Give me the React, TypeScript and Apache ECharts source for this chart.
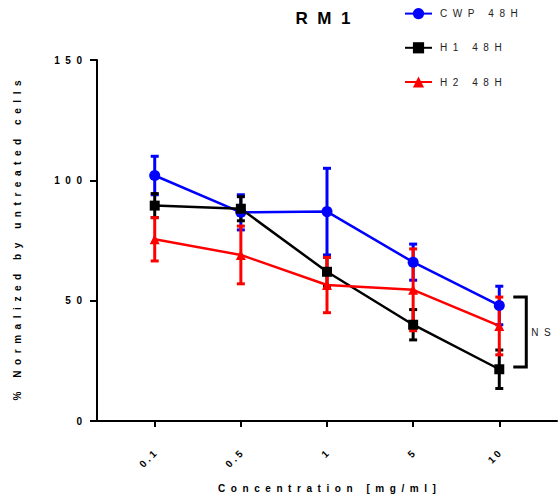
import React, { useEffect, useRef } from "react";
import * as echarts from "echarts";

const categories = ["0.1", "0.5", "1", "5", "10"];
const seriesNames = ["CWP 48H", "H1 48H", "H2 48H"];
const seriesColors = ["#0000ff", "#000000", "#ff0000"];
const seriesSymbols = ["circle", "rect", "triangle"];

const cwpMean = [102, 86.7, 87, 66, 48];
const cwpErr = [8, 7.3, 18, 7.5, 8];
const h1Mean = [89.5, 88.2, 62, 40, 21.5];
const h1Err = [5, 5, 6, 6.3, 8];
const h2Mean = [75.5, 69, 56.5, 54.5, 39.5];
const h2Err = [9, 12, 11.5, 17, 12];

const yTicks = [0, 50, 100, 150];
const xLabel = "Concentration [mg/ml]";
const yLabel = "% Normalized by untreated cells";
const titleText = "RM1";
const nsLabel = "NS";
// bracket spans concentration index 4 (10 mg/ml), between these y-values
const nsBracketTop = 51.5;
const nsBracketBottom = 22.4;

const FONT = "'Liberation Sans', Arial, Helvetica, sans-serif";
const NB = "\u00A0";
const spaced = (s: string, n = 2) => s.split("").map((c) => (c === " " ? NB : c)).join(NB.repeat(n));

export default function App() {
  const ref = useRef<HTMLDivElement>(null);
  useEffect(() => {
    if (!ref.current) return;
    const chart = echarts.init(ref.current, undefined, { renderer: "svg" });
    const means = [cwpMean, h1Mean, h2Mean];
    const errs = [cwpErr, h1Err, h2Err];
    const series: any[] = [];
    means.forEach((m, si) => {
      const color = seriesColors[si];
      series.push({
        name: seriesNames[si] + " err",
        type: "custom",
        data: m.map((v, i) => [i, v - errs[si][i], v + errs[si][i]]),
        encode: { x: 0, y: [1, 2] },
        renderItem: (params: any, api: any) => {
          const x = api.value(0);
          const lo = api.coord([x, api.value(1)]);
          const hi = api.coord([x, api.value(2)]);
          const w = 4;
          const st = { stroke: color, lineWidth: 3 };
          return {
            type: "group",
            children: [
              { type: "line", shape: { x1: hi[0], y1: hi[1], x2: lo[0], y2: lo[1] }, style: st },
              { type: "line", shape: { x1: hi[0] - w, y1: hi[1], x2: hi[0] + w, y2: hi[1] }, style: st },
              { type: "line", shape: { x1: lo[0] - w, y1: lo[1], x2: lo[0] + w, y2: lo[1] }, style: st },
            ],
          };
        },
        silent: true,
      });
      series.push({
        name: seriesNames[si],
        type: "line",
        data: m.map((v, i) => [i, v]),
        symbol: seriesSymbols[si],
        symbolSize: si === 0 ? 11 : 10,
        lineStyle: { color, width: 2.5 },
        itemStyle: { color },
      });
    });
    // NS bracket
    series.push({
      name: "ns",
      type: "custom",
      data: [[4, nsBracketTop, nsBracketBottom]],
      renderItem: (params: any, api: any) => {
        const x = api.value(0);
        const t = api.coord([x, api.value(1)]);
        const b = api.coord([x, api.value(2)]);
        const x0 = t[0] + 14;
        const x1 = t[0] + 27;
        return {
          type: "group",
          children: [
            {
              type: "polyline",
              shape: { points: [[x0, t[1]], [x1, t[1]], [x1, b[1]], [x0, b[1]]] },
              style: { stroke: "#000", lineWidth: 3, fill: "none" },
            },
            {
              type: "text",
              style: {
                text: spaced(nsLabel),
                x: x1 + 5,
                y: (t[1] + b[1]) / 2,
                verticalAlign: "middle",
                fill: "#222",
                font: `10px ${FONT}`,
              },
            },
          ],
        };
      },
      silent: true,
    });

    chart.setOption({
      animation: false,
      backgroundColor: "#fff",
      title: {
        text: spaced(titleText),
        left: 318,
        textAlign: "center",
        top: 5,
        textStyle: { fontSize: 17, fontWeight: "bold", color: "#000", fontFamily: FONT },
      },
      legend: {
        orient: "vertical",
        left: 399,
        top: 3,
        itemWidth: 27,
        itemHeight: 14,
        itemGap: 23,
        data: seriesNames,
        formatter: (n: string) => spaced(n),
        textStyle: { fontSize: 10, color: "#222", fontFamily: FONT, padding: [0, 0, 0, 3] },
      },
      grid: { left: 97, right: 1, top: 60, bottom: 80, containLabel: false },
      xAxis: {
        type: "value",
        min: -0.67,
        max: 4.67,
        name: spaced(xLabel),
        nameLocation: "middle",
        nameGap: 62,
        nameTextStyle: { fontSize: 10, fontWeight: "bold", color: "#000", fontFamily: FONT },
        axisLine: { onZero: false, lineStyle: { color: "#000", width: 2 } },
        axisTick: { show: true, length: 6, customValues: [0, 1, 2, 3, 4], lineStyle: { color: "#000", width: 2 } },
        axisLabel: {
          customValues: [0, 1, 2, 3, 4],
          formatter: (v: number) => spaced(categories[Math.round(v)] ?? "", 1),
          rotate: 45,
          margin: 31,
          fontSize: 10,
          fontWeight: "bold",
          color: "#000",
          fontFamily: FONT,
        },
        splitLine: { show: false },
      },
      yAxis: {
        type: "value",
        min: yTicks[0],
        max: yTicks[yTicks.length - 1],
        interval: 50,
        name: spaced(yLabel),
        nameLocation: "middle",
        nameGap: 75,
        nameTextStyle: { fontSize: 10, fontWeight: "bold", color: "#000", fontFamily: FONT },
        axisLine: { show: true, onZero: false, lineStyle: { color: "#000", width: 2 } },
        axisTick: { show: true, length: 7, lineStyle: { color: "#000", width: 2 } },
        axisLabel: {
          formatter: (v: number) => spaced(String(v)),
          margin: 15,
          fontSize: 10,
          fontWeight: "bold",
          color: "#000",
          fontFamily: FONT,
        },
        splitLine: { show: false },
      },
      series,
    });
    return () => chart.dispose();
  }, []);
  return <div ref={ref} style={{ position: "absolute", left: 0, top: 0, width: 558, height: 501 }} />;
}
